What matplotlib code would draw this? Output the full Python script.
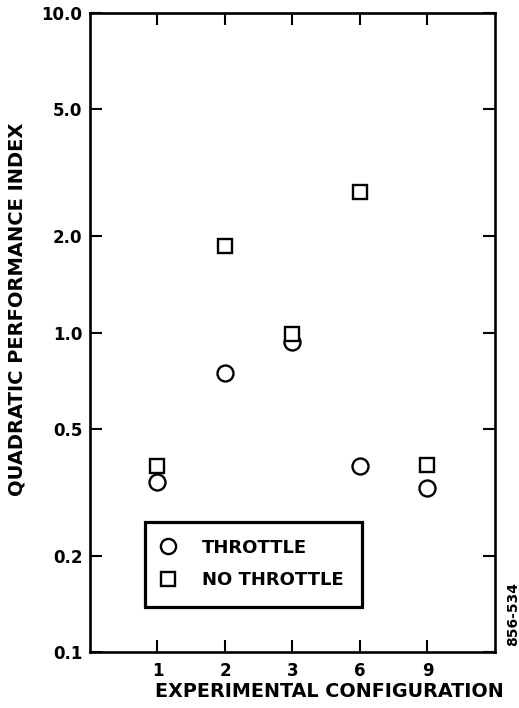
import matplotlib
matplotlib.use("Agg")
import matplotlib.pyplot as plt
from matplotlib.ticker import FixedLocator, NullLocator
from matplotlib.patches import Rectangle

configs = ["1", "2", "3", "6", "9"]
throttle = [0.341, 0.745, 0.934, 0.382, 0.327]
no_throttle = [0.382, 1.86, 0.99, 2.76, 0.385]
yticks = [0.1, 0.2, 0.5, 1.0, 2.0, 5.0, 10.0]
ytick_labels = ["0.1", "0.2", "0.5", "1.0", "2.0", "5.0", "10.0"]

plt.rcParams['font.family'] = ['DejaVu Sans']
plt.rcParams['font.weight'] = 'bold'

fig = plt.figure(figsize=(5.19, 7.08), dpi=100)
ax = fig.add_axes([0.1734, 0.0791, 0.7803, 0.9025])

xpos = list(range(1, len(configs) + 1))
ax.plot(xpos, throttle, linestyle='none', marker='o', markersize=11.5,
        markerfacecolor='white', markeredgecolor='black', markeredgewidth=1.7,
        label='THROTTLE')
ax.plot(xpos, no_throttle, linestyle='none', marker='s', markersize=9.5,
        markerfacecolor='white', markeredgecolor='black', markeredgewidth=1.7,
        label='NO THROTTLE')

ax.set_yscale('log')
ax.set_ylim(0.1, 10.0)
ax.set_xlim(0, len(configs) + 1)
ax.yaxis.set_major_locator(FixedLocator(yticks))
ax.yaxis.set_minor_locator(NullLocator())
ax.set_yticklabels(ytick_labels)
ax.set_xticks(xpos)
ax.set_xticklabels(configs)

for s in ax.spines.values():
    s.set_linewidth(1.9)
ax.tick_params(axis='both', which='major', direction='in', length=8.6, width=1.5,
               labelsize=12, top=True, right=True)
ax.tick_params(axis='y', pad=5.5)
ax.tick_params(axis='x', pad=7)
for lab in ax.get_xticklabels() + ax.get_yticklabels():
    lab.set_fontweight('bold')

fig.text(0.033, 0.5636, 'QUADRATIC PERFORMANCE INDEX', fontsize=14, fontweight='bold',
         rotation=90, ha='center', va='center')
fig.text(0.634, 0.023, 'EXPERIMENTAL CONFIGURATION', fontsize=13.8, fontweight='bold',
         ha='center', va='center')
fig.text(0.988, 0.133, '856-534', fontsize=10, fontweight='bold', rotation=90,
         ha='center', va='center')

ax.add_patch(Rectangle((0.1358, 0.0704), 0.6716 - 0.1358, 0.2034 - 0.0704,
                       transform=ax.transAxes, fill=True, facecolor='white',
                       edgecolor='black', linewidth=2.3, zorder=4))
leg = ax.legend(loc='center left', bbox_to_anchor=(0.1654, 0.1377),
                frameon=False, prop={'weight': 'bold', 'size': 13},
                handletextpad=1.28, borderpad=0, labelspacing=0.82,
                handlelength=1.2, borderaxespad=0, markerscale=0.95)
leg.set_zorder(5)
for h in leg.legend_handles:
    if h.get_marker() == 's':
        h.set_markersize(9.8)

fig.savefig('out.png', dpi=100)
